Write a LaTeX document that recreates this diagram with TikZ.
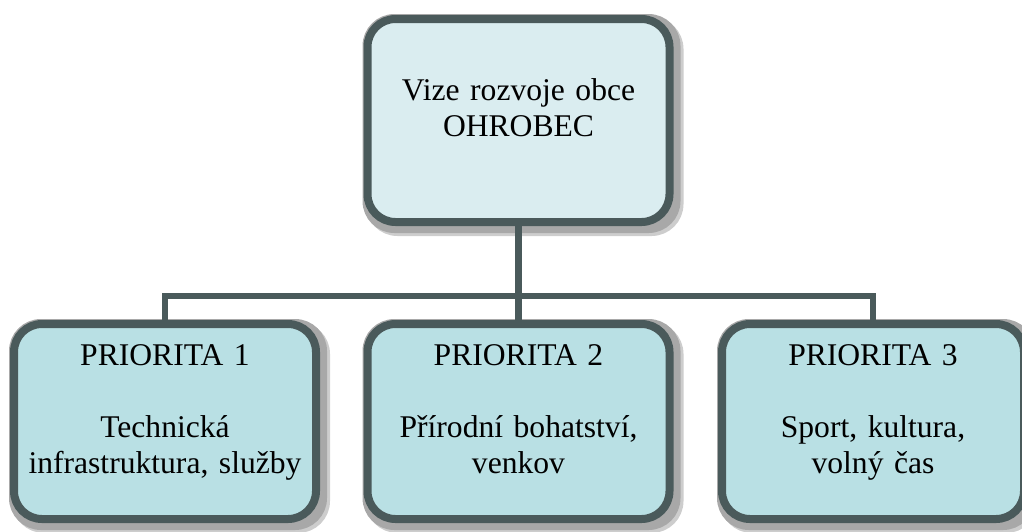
\documentclass[tikz,border=0pt]{standalone}
\usepackage{fontspec}
\setmainfont{Liberation Serif}
\usetikzlibrary{backgrounds}
\definecolor{bordc}{HTML}{4A5A5B}
\definecolor{topfill}{HTML}{DAEDF0}
\definecolor{subfill}{HTML}{B9E0E4}
\definecolor{shadowA}{HTML}{A8A8A8}
\definecolor{shadowB}{HTML}{CDCDCD}
\tikzset{
  box/.style={draw=bordc, line width=8pt, rounded corners=28pt, rectangle, inner sep=0pt},
  topbox/.style={box, fill=topfill, minimum width=302pt, minimum height=203pt},
  subbox/.style={box, fill=subfill, minimum width=302pt, minimum height=195pt},
  txt/.style={font=\fontsize{31.6}{36}\selectfont, text width=300pt, align=center, inner sep=0pt, anchor=base},
  conn/.style={draw=bordc, line width=6.5pt},
  shdA/.style={draw=shadowB, fill=shadowB, line width=8pt, rounded corners=28pt},
  shdB/.style={draw=shadowA, fill=shadowA, line width=8pt, rounded corners=28pt}
}
\begin{document}
\begin{tikzpicture}[x=1pt,y=-1pt]
\useasboundingbox (0,0) rectangle (1022,531);
% boxes
\node[topbox] (top) at (518.5,120.5) {};
\node[subbox] (b1) at (165,421.5) {};
\node[subbox] (b2) at (518.5,421.5) {};
\node[subbox] (b3) at (873,421.5) {};
% shadows and connectors behind the boxes
\begin{scope}[on background layer]
\foreach \n in {top,b1,b2,b3}{
  \draw[shdA] ([shift={(6,6)}]\n.north west) rectangle ([shift={(6,6)}]\n.south east);
  \draw[shdB] ([shift={(3,3)}]\n.north west) rectangle ([shift={(3,3)}]\n.south east);
}
\coordinate (j) at (518.5,296);
\draw[conn] (top.south) -- (b2.north);
\draw[conn] (b1.north) |- (j) -| (b3.north);
\end{scope}
% texts
\node[txt] (ttop) at (518.5,100) {Vize rozvoje obce\\OHROBEC};
\node[txt] (t1) at (165,365) {PRIORITA 1\\[36pt]Technická\\infrastruktura, služby};
\node[txt] (t2) at (518.5,365) {PRIORITA 2\\[36pt]Přírodní bohatství,\\venkov};
\node[txt] (t3) at (873,365) {PRIORITA 3\\[36pt]Sport, kultura,\\volný čas};
\end{tikzpicture}
\end{document}
